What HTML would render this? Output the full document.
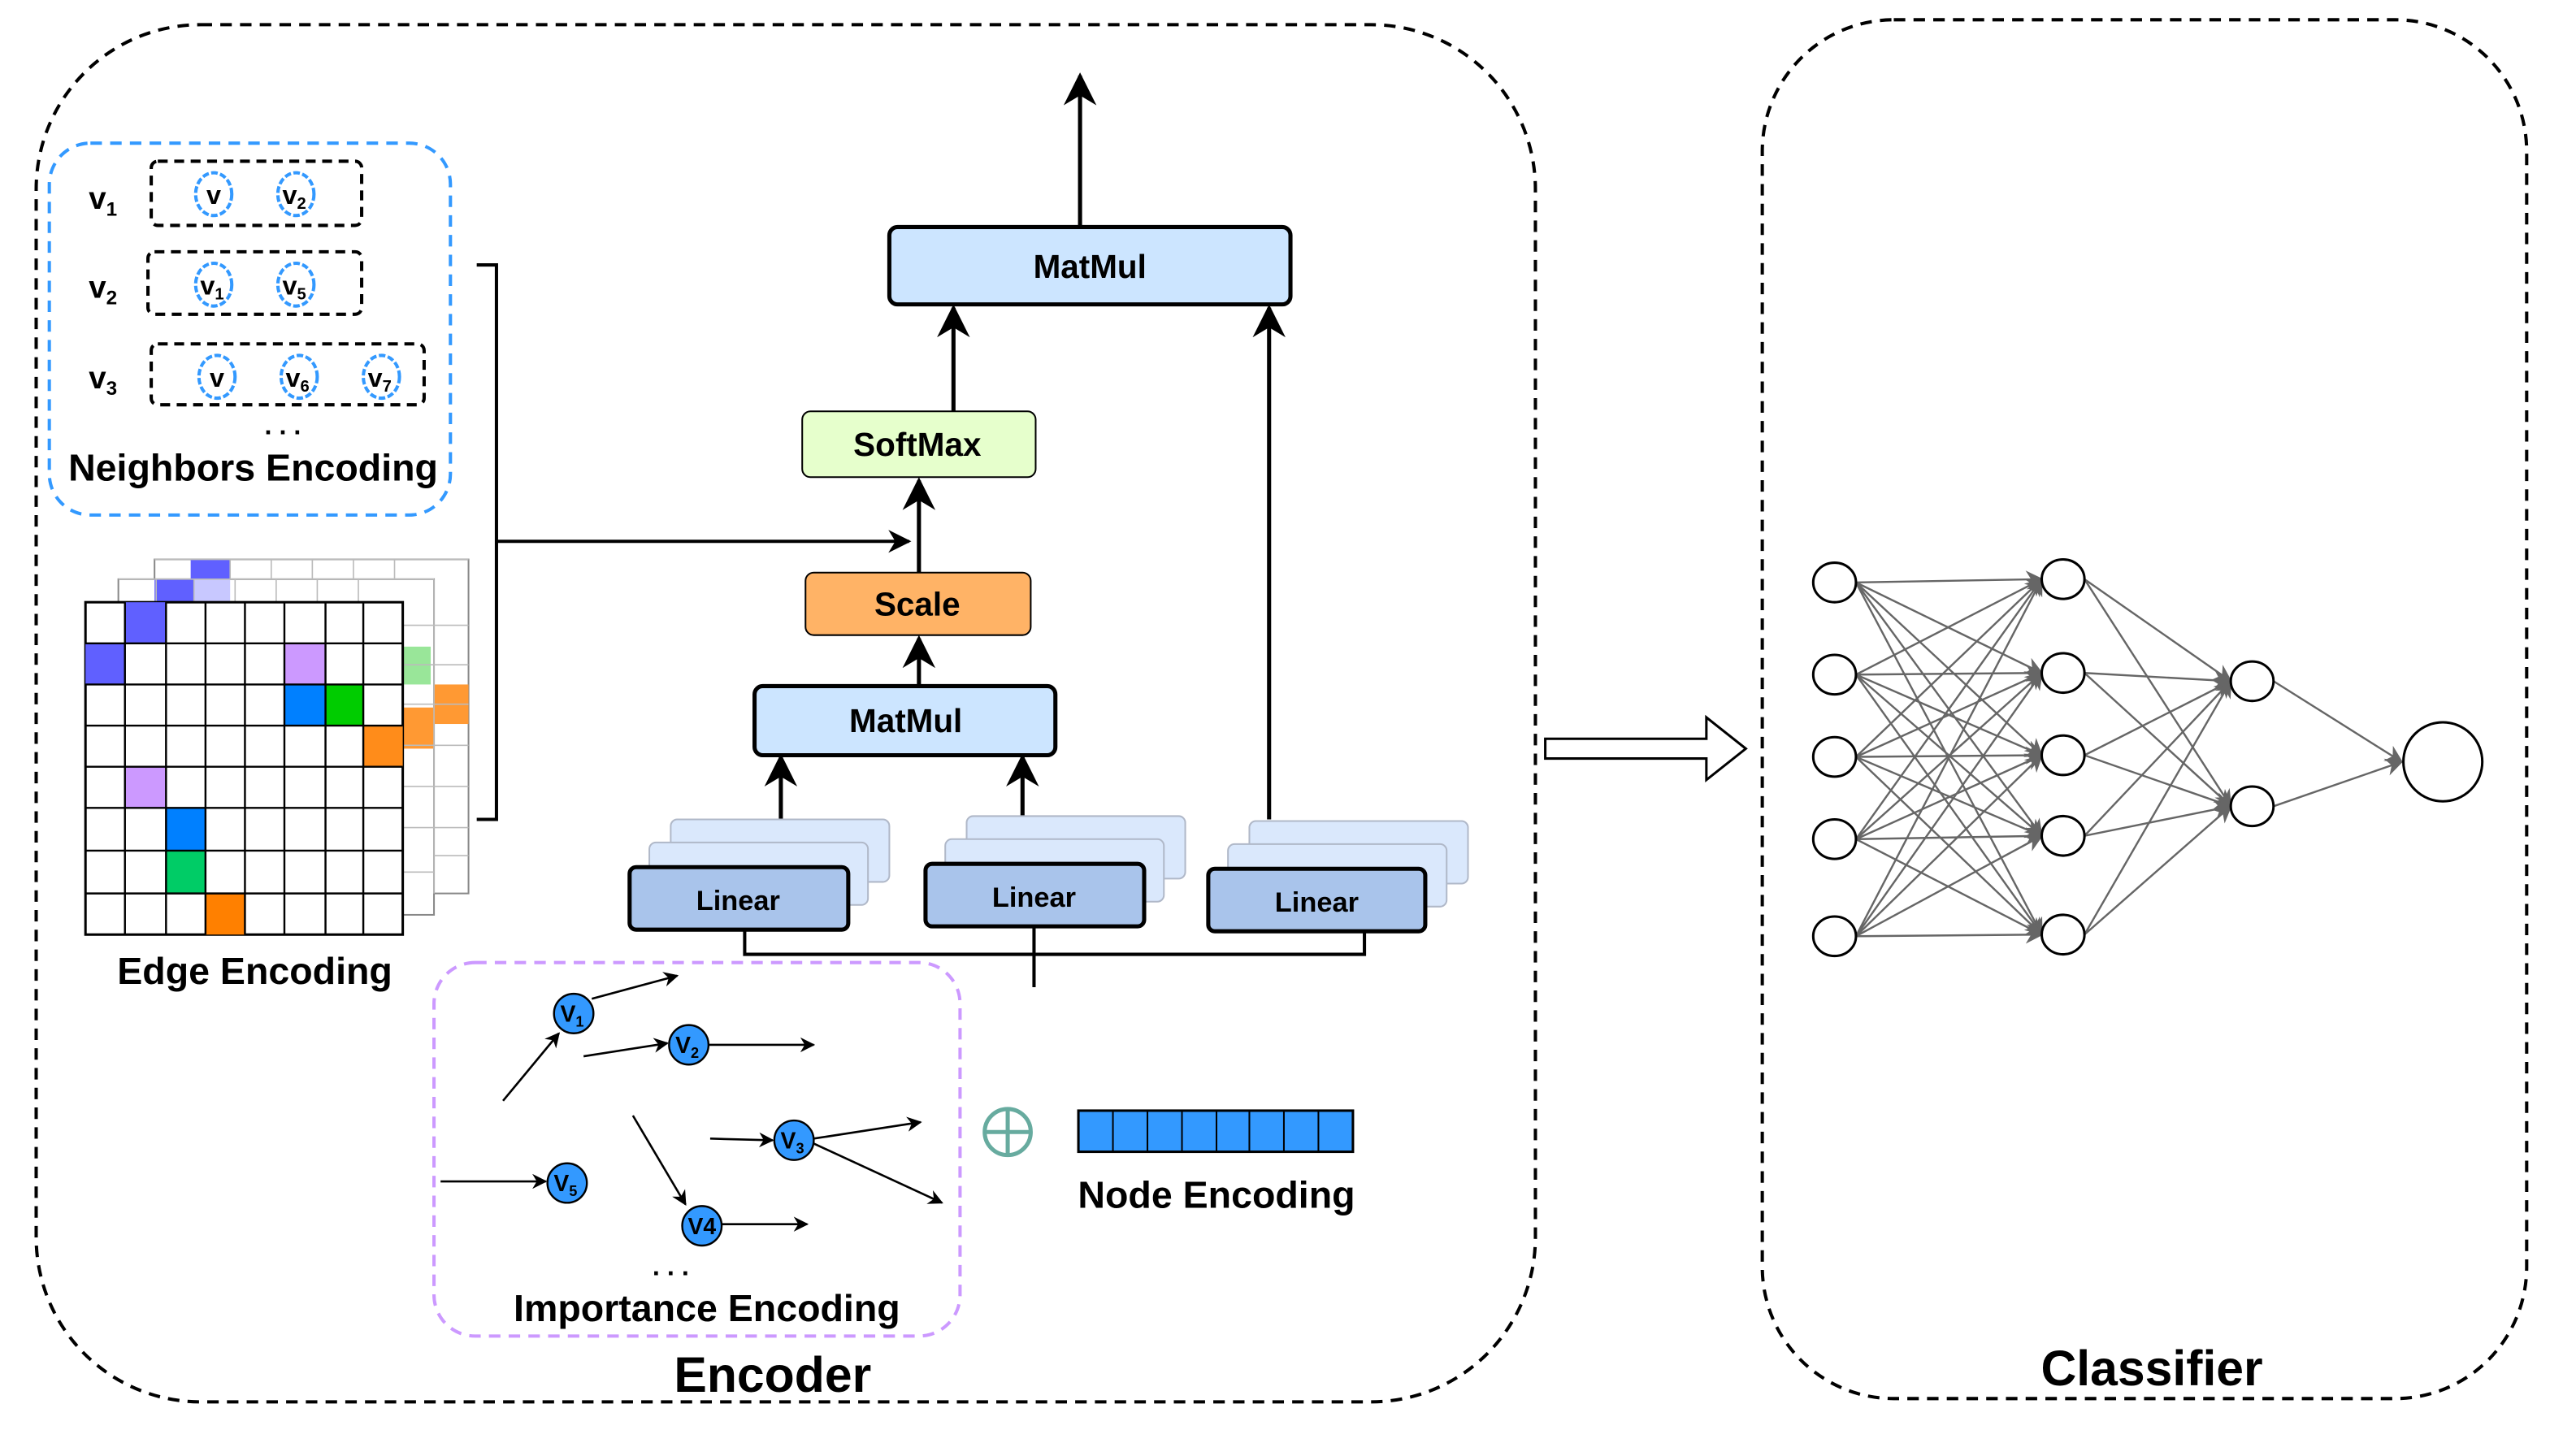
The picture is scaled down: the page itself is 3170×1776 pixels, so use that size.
<!DOCTYPE html>
<html><head><meta charset="utf-8"><style>
html,body{margin:0;padding:0;background:#fff;}
svg{display:block;}
text{font-family:"Liberation Sans",sans-serif;font-weight:bold;fill:#000;}
</style></head><body>
<svg width="3170" height="1776" viewBox="0 0 1567 877" preserveAspectRatio="none" xmlns="http://www.w3.org/2000/svg">
<defs>
<marker id="a" viewBox="0 0 10 10" refX="9" refY="5" markerWidth="7" markerHeight="7" orient="auto"><path d="M0,0 L10,5 L0,10 L3,5 z" fill="#000"/></marker>
<marker id="g" viewBox="0 0 10 10" refX="9" refY="5" markerWidth="9" markerHeight="9" orient="auto"><path d="M0,0 L10,5 L0,10 L3,5 z" fill="#666"/></marker>
<marker id="s" viewBox="0 0 10 10" refX="9" refY="5" markerWidth="8" markerHeight="8" orient="auto"><path d="M0,0 L10,5 L0,10 L3,5 z" fill="#000"/></marker>
</defs>
<rect x="22" y="15" width="912" height="837" rx="100" fill="none" stroke="#000" stroke-width="2" stroke-dasharray="7,5"/>
<rect x="1072" y="12" width="465" height="838" rx="80" fill="none" stroke="#000" stroke-width="2" stroke-dasharray="7,5"/>
<text x="470" y="846" font-size="30" text-anchor="middle">Encoder</text>
<text x="1309" y="842" font-size="30" text-anchor="middle">Classifier</text>
<path d="M940,449 L1038,449 L1038,436 L1062,455 L1038,474 L1038,461 L940,461 z" fill="#fff" stroke="#000" stroke-width="1.5"/>

<rect x="30" y="87" width="244" height="226" rx="25" fill="none" stroke="#3399ff" stroke-width="2" stroke-dasharray="7,5"/>
<g font-size="19" font-weight="normal">
<text x="54" y="127">v<tspan font-size="12" dy="4">1</tspan></text>
<text x="54" y="181">v<tspan font-size="12" dy="4">2</tspan></text>
<text x="54" y="236">v<tspan font-size="12" dy="4">3</tspan></text>
</g>
<g fill="none" stroke="#000" stroke-width="2" stroke-dasharray="6,4">
<rect x="92" y="98" width="128" height="39" rx="4"/>
<rect x="90" y="153" width="130" height="38" rx="4"/>
<rect x="92" y="209" width="166" height="37" rx="4"/>
</g>
<g fill="#fff" stroke="#3399ff" stroke-width="2" stroke-dasharray="4,1.5">
<ellipse cx="130" cy="118" rx="11" ry="13"/><ellipse cx="180" cy="118" rx="11" ry="13"/>
<ellipse cx="130" cy="173" rx="11" ry="13"/><ellipse cx="180" cy="173" rx="11" ry="13"/>
<ellipse cx="132" cy="229" rx="11" ry="13"/><ellipse cx="182" cy="229" rx="11" ry="13"/><ellipse cx="232" cy="229" rx="11" ry="13"/>
</g>
<g font-size="16" font-weight="normal" text-anchor="middle">
<text x="130" y="124">v</text><text x="179" y="124">v<tspan font-size="10" dy="3">2</tspan></text>
<text x="129" y="179">v<tspan font-size="10" dy="3">1</tspan></text><text x="179" y="179">v<tspan font-size="10" dy="3">5</tspan></text>
<text x="132" y="235">v</text><text x="181" y="235">v<tspan font-size="10" dy="3">6</tspan></text><text x="231" y="235">v<tspan font-size="10" dy="3">7</tspan></text>
</g>
<text x="172" y="264" font-size="16" text-anchor="middle">. . .</text>
<text x="154" y="292" font-size="23" text-anchor="middle">Neighbors Encoding</text>

<path d="M290,161 L302,161 L302,498 L290,498" fill="none" stroke="#000" stroke-width="2"/>
<path d="M302,329 L553,329" fill="none" stroke="#000" stroke-width="2" marker-end="url(#a)"/>

<g stroke="#888" stroke-width="1" fill="#fff">
<rect x="94" y="340" width="191" height="203"/>
<rect x="72" y="352" width="192" height="204"/>
</g>
<rect x="116" y="340" width="24" height="12" fill="#6060ff"/>
<rect x="94" y="352" width="24" height="14" fill="#6060ff"/>
<rect x="118" y="352" width="22" height="14" fill="#c8c8ff"/>
<rect x="245" y="393" width="17" height="23" fill="#99e699"/>
<rect x="264" y="416" width="21" height="24" fill="#ff9933"/>
<rect x="245" y="430" width="19" height="25" fill="#ff9933"/>
<g stroke="#bbb" stroke-width="0.8">
<path d="M264,352 V543 M245,366 V556 M94,340 H285 M72,352 H264 M264,380 H285 M264,404 H285 M264,428 H285 M264,453 H285 M264,478 H285 M264,503 H285 M264,520 H285 M245,380 H264 M245,404 H264 M245,428 H264 M245,453 H264 M245,478 H264 M245,503 H264 M245,530 H264"/>
<path d="M140,340 V352 M165,340 V352 M190,340 V352 M215,340 V352 M240,340 V352 M95,352 V366 M118,352 V366 M143,352 V366 M168,352 V366 M193,352 V366 M218,352 V366"/>
</g>
<rect x="52" y="366" width="193" height="202" fill="#fff" stroke="#000" stroke-width="1.5"/>
<g>
<rect x="76" y="366" width="25" height="25" fill="#6060ff"/>
<rect x="52" y="391" width="24" height="25" fill="#6060ff"/>
<rect x="173" y="391" width="25" height="25" fill="#cc99ff"/>
<rect x="173" y="416" width="25" height="25" fill="#0080ff"/>
<rect x="198" y="416" width="23" height="25" fill="#00cc00"/>
<rect x="221" y="441" width="24" height="25" fill="#ff8c1a"/>
<rect x="76" y="466" width="25" height="25" fill="#cc99ff"/>
<rect x="101" y="491" width="24" height="26" fill="#0080ff"/>
<rect x="101" y="517" width="24" height="26" fill="#00cc66"/>
<rect x="125" y="543" width="24" height="25" fill="#ff8000"/>
</g>
<g stroke="#000" stroke-width="1.2">
<path d="M76,366 V568 M101,366 V568 M125,366 V568 M149,366 V568 M173,366 V568 M198,366 V568 M221,366 V568"/>
<path d="M52,391 H245 M52,416 H245 M52,441 H245 M52,466 H245 M52,491 H245 M52,517 H245 M52,543 H245"/>
</g>
<text x="155" y="598" font-size="23" text-anchor="middle">Edge Encoding</text>

<path d="M657,138 L657,46" stroke="#000" stroke-width="2.5" marker-end="url(#s)"/>
<rect x="541" y="138" width="244" height="47" rx="5" fill="#cce5ff" stroke="#000" stroke-width="2.5"/>
<text x="663" y="169" font-size="20" text-anchor="middle">MatMul</text>
<path d="M580,250 L580,187" stroke="#000" stroke-width="2.5" marker-end="url(#s)"/>
<path d="M772,498 L772,187" stroke="#000" stroke-width="2.5" marker-end="url(#s)"/>
<rect x="488" y="250" width="142" height="40" rx="5" fill="#e6ffcc" stroke="#000" stroke-width="1"/>
<text x="558" y="277" font-size="20" text-anchor="middle">SoftMax</text>
<path d="M559,348 L559,292" stroke="#000" stroke-width="2.5" marker-end="url(#s)"/>
<rect x="490" y="348" width="137" height="38" rx="5" fill="#ffb366" stroke="#000" stroke-width="1"/>
<text x="558" y="374" font-size="20" text-anchor="middle">Scale</text>
<path d="M559,417 L559,388" stroke="#000" stroke-width="2.5" marker-end="url(#s)"/>
<rect x="459" y="417" width="183" height="42" rx="5" fill="#cce5ff" stroke="#000" stroke-width="2.5"/>
<text x="551" y="445" font-size="20" text-anchor="middle">MatMul</text>
<path d="M475,498 L475,460" stroke="#000" stroke-width="2.5" marker-end="url(#s)"/>
<path d="M622,496 L622,460" stroke="#000" stroke-width="2.5" marker-end="url(#s)"/>

<g fill="#dae8fc" stroke="#b0b8c8" stroke-width="1">
<rect x="408" y="498" width="133" height="38" rx="4"/><rect x="395" y="512" width="133" height="38" rx="4"/>
<rect x="588" y="496" width="133" height="38" rx="4"/><rect x="575" y="510" width="133" height="38" rx="4"/>
<rect x="760" y="499" width="133" height="38" rx="4"/><rect x="747" y="513" width="133" height="38" rx="4"/>
</g>
<g fill="#a9c4eb" stroke="#000" stroke-width="2.5">
<rect x="383" y="527" width="133" height="38" rx="4"/>
<rect x="563" y="525" width="133" height="38" rx="4"/>
<rect x="735" y="528" width="132" height="38" rx="4"/>
</g>
<g font-size="17" text-anchor="middle">
<text x="449" y="553">Linear</text><text x="629" y="551">Linear</text><text x="801" y="554">Linear</text>
</g>
<path d="M453,566 V580 H830 V566 M629,563 V600" fill="none" stroke="#000" stroke-width="2"/>

<rect x="264" y="585" width="320" height="227" rx="25" fill="none" stroke="#cc99ff" stroke-width="2" stroke-dasharray="7,5"/>
<g stroke="#000" stroke-width="1.3" fill="none">
<path d="M306,669 L340,628" marker-end="url(#a)"/>
<path d="M360,607 L412,593" marker-end="url(#a)"/>
<path d="M355,642 L406,634" marker-end="url(#a)"/>
<path d="M431,635 L495,635" marker-end="url(#a)"/>
<path d="M432,692 L470,693" marker-end="url(#a)"/>
<path d="M495,692 L560,682" marker-end="url(#a)"/>
<path d="M495,695 L573,731" marker-end="url(#a)"/>
<path d="M268,718 L332,718" marker-end="url(#a)"/>
<path d="M385,678 L417,732" marker-end="url(#a)"/>
<path d="M439,744 L491,744" marker-end="url(#a)"/>
</g>
<g fill="#3399ff" stroke="#000" stroke-width="1.2">
<circle cx="349" cy="616" r="12"/><circle cx="419" cy="635" r="12"/><circle cx="483" cy="693" r="12"/>
<circle cx="345" cy="719" r="12"/><circle cx="427" cy="745" r="12"/>
</g>
<g font-size="14" font-weight="normal" text-anchor="middle">
<text x="348" y="621">V<tspan font-size="9" dy="3">1</tspan></text>
<text x="418" y="640">V<tspan font-size="9" dy="3">2</tspan></text>
<text x="482" y="698">V<tspan font-size="9" dy="3">3</tspan></text>
<text x="344" y="724">V<tspan font-size="9" dy="3">5</tspan></text>
<text x="427" y="750">V4</text>
</g>
<text x="408" y="775" font-size="16" text-anchor="middle">. . .</text>
<text x="430" y="803" font-size="23" text-anchor="middle">Importance Encoding</text>

<circle cx="613" cy="688" r="14" fill="none" stroke="#67ab9f" stroke-width="2.5"/>
<path d="M599,688 H627 M613,674 V702" stroke="#67ab9f" stroke-width="2.5"/>
<rect x="656" y="675" width="167" height="25" fill="#3399ff" stroke="#000" stroke-width="1.5"/>
<path d="M677,675 V700 M698,675 V700 M719,675 V700 M740,675 V700 M760,675 V700 M781,675 V700 M802,675 V700" stroke="#000" stroke-width="1"/>
<text x="740" y="734" font-size="23" text-anchor="middle">Node Encoding</text>

<g stroke="#666" stroke-width="1.2" fill="none" marker-end="url(#g)">
<path d="M1129,354 L1242,352"/><path d="M1129,354 L1242,409"/><path d="M1129,354 L1242,459"/><path d="M1129,354 L1242,508"/><path d="M1129,354 L1242,568"/>
<path d="M1129,410 L1242,352"/><path d="M1129,410 L1242,409"/><path d="M1129,410 L1242,459"/><path d="M1129,410 L1242,508"/><path d="M1129,410 L1242,568"/>
<path d="M1129,460 L1242,352"/><path d="M1129,460 L1242,409"/><path d="M1129,460 L1242,459"/><path d="M1129,460 L1242,508"/><path d="M1129,460 L1242,568"/>
<path d="M1129,510 L1242,352"/><path d="M1129,510 L1242,409"/><path d="M1129,510 L1242,459"/><path d="M1129,510 L1242,508"/><path d="M1129,510 L1242,568"/>
<path d="M1129,569 L1242,352"/><path d="M1129,569 L1242,409"/><path d="M1129,569 L1242,459"/><path d="M1129,569 L1242,508"/><path d="M1129,569 L1242,568"/>
<path d="M1268,352 L1357,414"/><path d="M1268,352 L1357,490"/>
<path d="M1268,409 L1357,414"/><path d="M1268,409 L1357,490"/>
<path d="M1268,459 L1357,414"/><path d="M1268,459 L1357,490"/>
<path d="M1268,508 L1357,414"/><path d="M1268,508 L1357,490"/>
<path d="M1268,568 L1357,414"/><path d="M1268,568 L1357,490"/>
<path d="M1383,414 L1461,463"/><path d="M1383,490 L1461,463"/>
</g>
<g fill="#fff" stroke="#000" stroke-width="1.5">
<ellipse cx="1116" cy="354" rx="13" ry="12"/><ellipse cx="1116" cy="410" rx="13" ry="12"/><ellipse cx="1116" cy="460" rx="13" ry="12"/><ellipse cx="1116" cy="510" rx="13" ry="12"/><ellipse cx="1116" cy="569" rx="13" ry="12"/>
<ellipse cx="1255" cy="352" rx="13" ry="12"/><ellipse cx="1255" cy="409" rx="13" ry="12"/><ellipse cx="1255" cy="459" rx="13" ry="12"/><ellipse cx="1255" cy="508" rx="13" ry="12"/><ellipse cx="1255" cy="568" rx="13" ry="12"/>
<ellipse cx="1370" cy="414" rx="13" ry="12"/><ellipse cx="1370" cy="490" rx="13" ry="12"/>
<ellipse cx="1486" cy="463" rx="24" ry="24"/>
</g>
</svg>
</body></html>
